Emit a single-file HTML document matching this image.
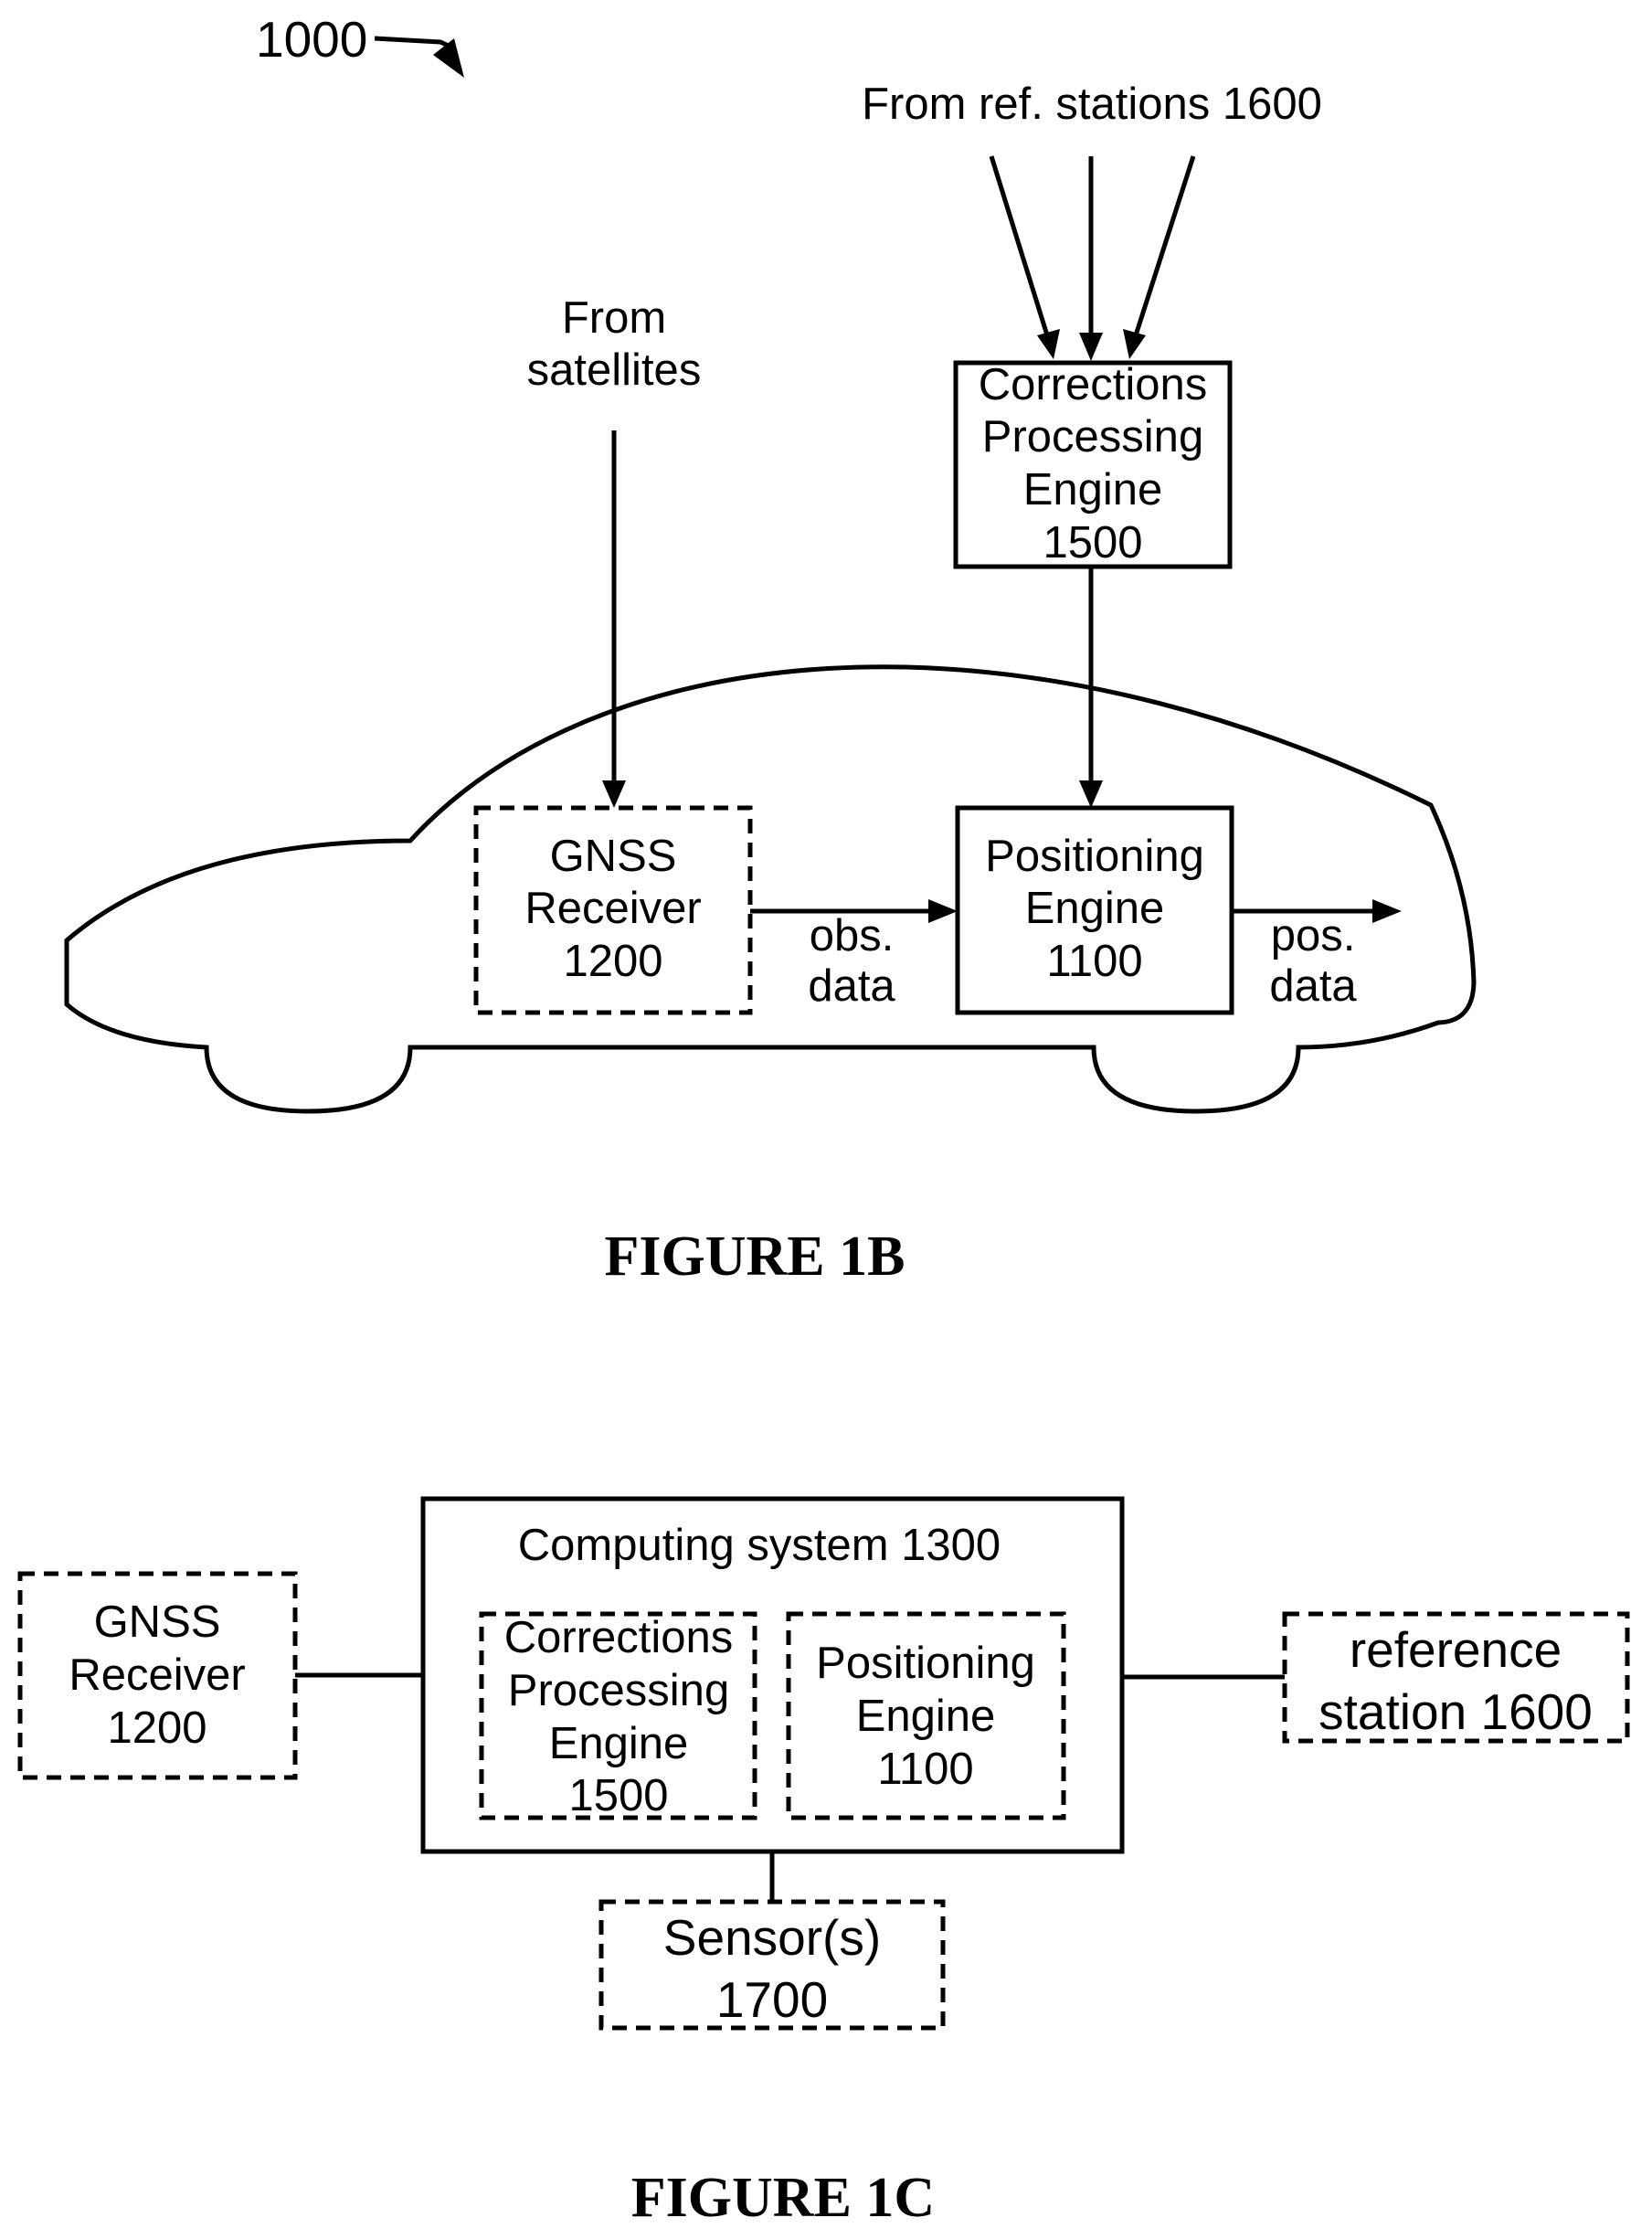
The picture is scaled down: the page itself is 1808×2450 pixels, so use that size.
<!DOCTYPE html>
<html><head><meta charset="utf-8"><style>
html,body{margin:0;padding:0;background:#fff;}
svg{display:block;}
text{font-family:"Liberation Sans",sans-serif;fill:#000;}
.t{font-size:49px;text-anchor:middle;dominant-baseline:central;}
.f{font-family:"Liberation Serif",serif;font-weight:bold;font-size:62px;text-anchor:middle;dominant-baseline:central;}
</style></head><body>
<svg width="1808" height="2450" viewBox="0 0 1808 2450" xmlns="http://www.w3.org/2000/svg">
<g stroke="#000" stroke-width="5" fill="none">
<path d="M410 42 L482 46 L495 52"/>
<line x1="1085" y1="171" x2="1147" y2="370"/>
<line x1="1194" y1="171" x2="1194" y2="368"/>
<line x1="1306" y1="171" x2="1242" y2="370"/>
<rect x="1046" y="397" width="300" height="223"/>
<line x1="1194" y1="620" x2="1194" y2="856"/>
<rect x="1048" y="884" width="300" height="224"/>
<rect x="521" y="884" width="300" height="224" stroke-dasharray="16 10"/>
<line x1="672" y1="471" x2="672" y2="856"/>
<line x1="821" y1="997" x2="1018" y2="997"/>
<line x1="1348" y1="997" x2="1506" y2="997"/>
<path d="M449 920 C650 700 1100 650 1566 881 Q1610 975 1613 1075 Q1612 1118 1574 1119 Q1500 1146 1421 1146 Q1421 1216 1309 1216 Q1197 1216 1197 1146 L449 1146 Q449 1216 337 1216 Q226 1216 226 1146 Q120 1140 73 1099 L73 1029 Q200 920 449 920 Z"/>
<rect x="463" y="1640" width="765" height="386"/>
<rect x="527" y="1766" width="299" height="223" stroke-dasharray="16 10"/>
<rect x="863" y="1766" width="301" height="223" stroke-dasharray="16 10"/>
<rect x="22" y="1722" width="301" height="223" stroke-dasharray="16 10"/>
<rect x="1406" y="1766" width="375" height="139" stroke-dasharray="16 10"/>
<rect x="658" y="2081" width="374" height="138" stroke-dasharray="16 10"/>
<line x1="323" y1="1833" x2="463" y2="1833"/>
<line x1="1228" y1="1835" x2="1406" y2="1835"/>
<line x1="845" y1="2026" x2="845" y2="2081"/>
</g>
<g fill="#000">
<polygon points="474,60 497,42 508,85"/>
<polygon points="1135,367 1160,360 1153,393"/>
<polygon points="1181,364 1207,364 1194,395"/>
<polygon points="1229,360 1254,367 1236,393"/>
<polygon points="1181,854 1207,854 1194,884"/>
<polygon points="659,854 685,854 672,884"/>
<polygon points="1016,984 1016,1010 1048,997"/>
<polygon points="1502,984 1502,1010 1534,997"/>
</g>
<text x="280" y="62" style="font-size:55px">1000</text>
<text class="t" x="1195" y="114">From ref. stations 1600</text>
<text class="t" x="672" y="348">From</text>
<text class="t" x="672" y="405">satellites</text>
<text class="t" x="1196" y="421">Corrections</text>
<text class="t" x="1196" y="478">Processing</text>
<text class="t" x="1196" y="536">Engine</text>
<text class="t" x="1196" y="594">1500</text>
<text class="t" x="1198" y="937">Positioning</text>
<text class="t" x="1198" y="994">Engine</text>
<text class="t" x="1198" y="1052">1100</text>
<text class="t" x="671" y="937">GNSS</text>
<text class="t" x="671" y="994">Receiver</text>
<text class="t" x="671" y="1052">1200</text>
<text class="t" x="932" y="1024">obs.</text>
<text class="t" x="932" y="1079">data</text>
<text class="t" x="1437" y="1024">pos.</text>
<text class="t" x="1437" y="1079">data</text>
<text class="f" x="826" y="1375">FIGURE 1B</text>
<text class="t" x="831" y="1691">Computing system 1300</text>
<text class="t" x="677" y="1792">Corrections</text>
<text class="t" x="677" y="1850">Processing</text>
<text class="t" x="677" y="1908">Engine</text>
<text class="t" x="677" y="1965">1500</text>
<text class="t" x="1013" y="1820">Positioning</text>
<text class="t" x="1013" y="1878">Engine</text>
<text class="t" x="1013" y="1936">1100</text>
<text class="t" x="172" y="1775">GNSS</text>
<text class="t" x="172" y="1833">Receiver</text>
<text class="t" x="172" y="1891">1200</text>
<text class="t" x="1593" y="1805" style="font-size:55px">reference</text>
<text class="t" x="1593" y="1873" style="font-size:55px">station 1600</text>
<text class="t" x="845" y="2120" style="font-size:55px">Sensor(s)</text>
<text class="t" x="845" y="2188" style="font-size:55px">1700</text>
<text class="f" x="857" y="2405">FIGURE 1C</text>
</svg>
</body></html>
